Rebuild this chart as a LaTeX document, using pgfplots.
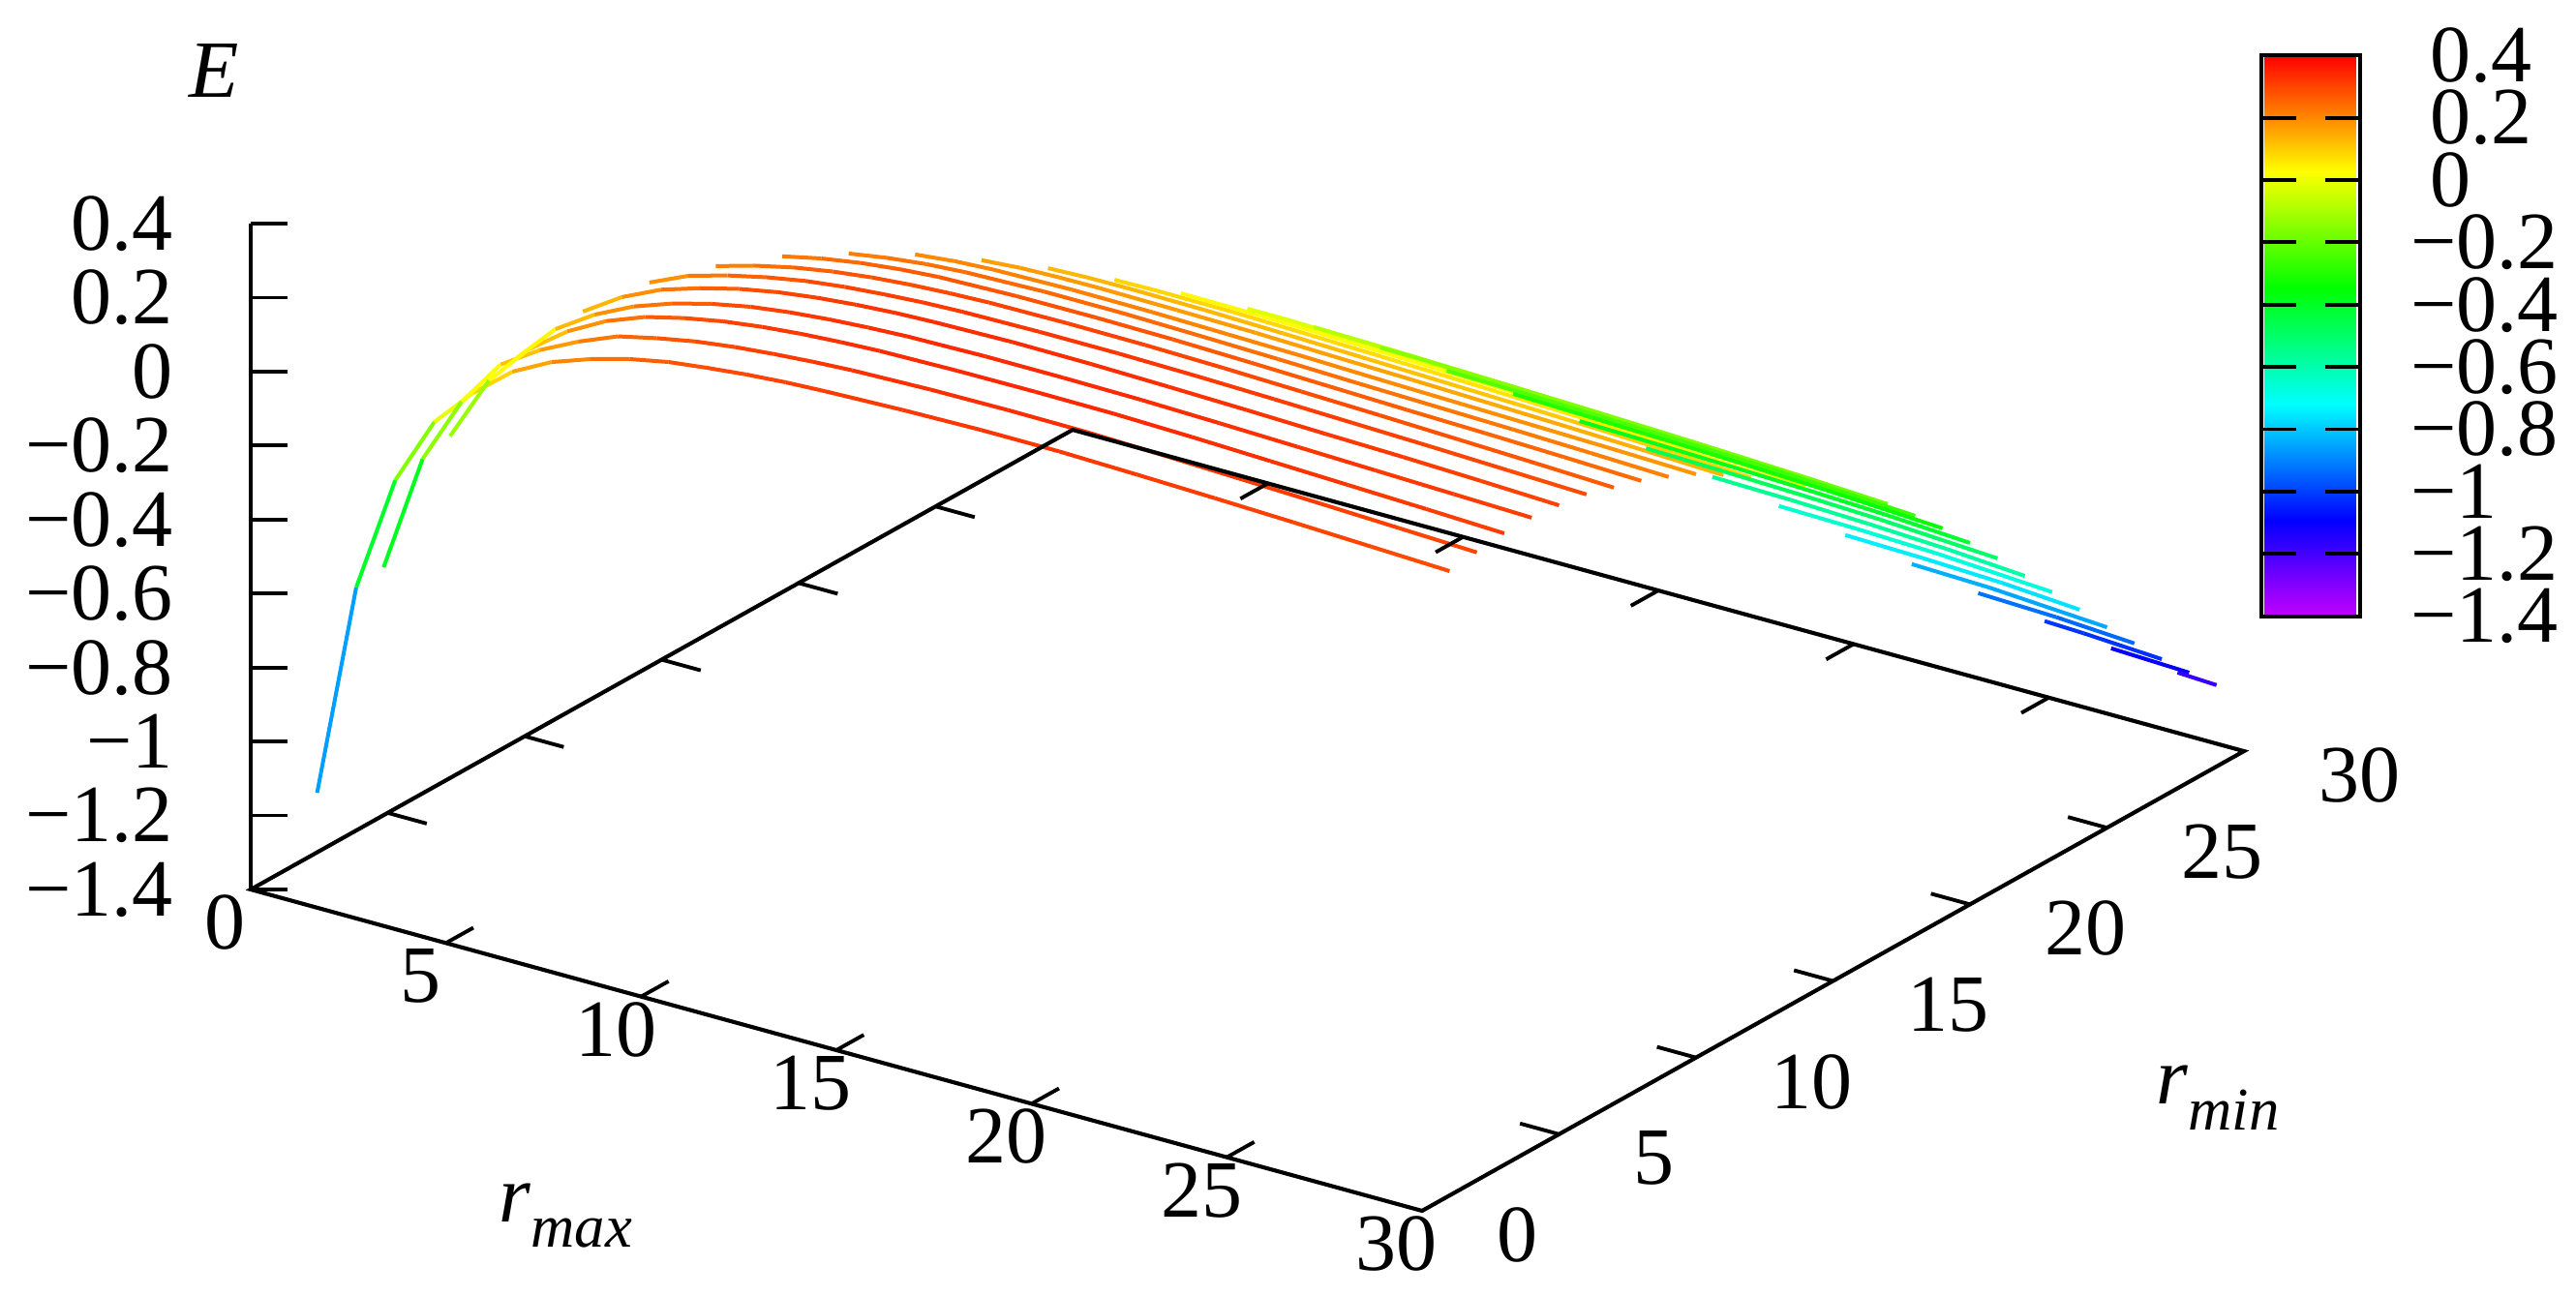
\documentclass[border=0pt]{standalone}
\usepackage{fontspec}
\setmainfont{Liberation Serif}
\usepackage{pgfplots}
\pgfplotsset{compat=1.18}
% gnuplot hsv palette, positions are (E+1.4)*100
\pgfplotsset{colormap={gpv}{rgb255(0pt)=(195,0,255); rgb255(30.8pt)=(0,0,255); rgb255(68.1pt)=(0,255,255); rgb255(105.4pt)=(0,255,0); rgb255(142.7pt)=(255,255,0); rgb255(180pt)=(255,0,0)}}
\newcommand{\lblfont}{\fontsize{12.6}{14}\selectfont}
\newcommand{\subfont}{\fontsize{9.4}{10}\selectfont}
\pgfplotsset{cv/.style={mesh,point meta=z,line width=0.6pt,line join=round}}
\begin{document}
\begin{tikzpicture}
\path[use as bounding box] (-38.85pt,-13.2pt) rectangle (360.3pt,187.65pt);
\begin{axis}[
    at={(0,0)},anchor=south west,
    x={(6.05pt,-1.66pt)},y={(4.245pt,2.3745pt)},z={(0pt,57.33pt)},
    xmin=0,xmax=30,ymin=0,ymax=30,zmin=-1.4,zmax=0.4,
    clip=false,
    colormap name=gpv,
    point meta min=-1.4,point meta max=0.4,
    axis line style={draw=none},
    major tick length=0pt,
    xtick={0,5,10,15,20,25,30},xticklabels={0,5,10,15,20,25,30},
    ytick={0,5,10,15,20,25,30},yticklabels={0,5,10,15,20,25,30},
    ztick={-1.4,-1.2,-1,-0.8,-0.6,-0.4,-0.2,0,0.2,0.4},
    zticklabels={−1.4,−1.2,−1,−0.8,−0.6,−0.4,−0.2,0,0.2,0.4},
    tick label style={font=\lblfont,inner sep=0pt},
    xticklabel style={anchor=center,xshift=-3.9pt,yshift=-5.1pt},
    yticklabel style={anchor=west,xshift=11.4pt,yshift=-3.75pt},
    zticklabel style={anchor=east,xshift=-11.85pt},
    xlabel={\lblfont\textit{r}\raisebox{-0.32em}{\subfont\textit{max}}},
    ylabel={\lblfont\textit{r}\raisebox{-0.32em}{\subfont\textit{min}}},
    zlabel={\lblfont\textit{E}},
    every axis x label/.style={at={(axis cs:15.43,-10.5,-1.4)},anchor=center},
    every axis y label/.style={at={(axis cs:40.19,14.52,-1.4)},anchor=center},
    every axis z label/.style={at={(axis cs:0,0,0.813)},anchor=center,xshift=-5.7pt},
    colorbar,
    colorbar style={
        at={(parent axis.south west)},anchor=south west,
        xshift=303.05pt,yshift=92.16pt,
        scale only axis,width=15.3pt,height=86.9pt,
        xmin=-0.03,xmax=1.03,
        ytick={-1.4,-1.2,-1,-0.8,-0.6,-0.4,-0.2,0,0.2,0.4},
        yticklabels={−1.4,−1.2,−1,−0.8,−0.6,−0.4,−0.2,\hspace*{3pt}0,\hspace*{3pt}0.2,\hspace*{3pt}0.4},
        yticklabel pos=right,
        tick align=inside,
        ytick pos=both,
        major tick length=5.4pt,
        tick style={black,line width=0.58pt},
        axis line style={black,line width=0.62pt},
        yticklabel style={font=\lblfont,anchor=west,inner sep=0pt,xshift=7.65pt},
    },
]
\addplot3[cv] coordinates {(1,1,-1.151)(2,1,-.567)(3,1,-.248)(4,1,-.062)(5,1,.046)(6,1,.132)(7,1,.187)(8,1,.224)(9,1,.253)(10,1,.274)(11,1,.287)(12,1,.298)(13,1,.306)(14,1,.311)(16,1,.318)(18,1,.322)(20,1,.322)(22,1,.317)(24,1,.311)(26,1,.304)(28,1,.296)(30,1,.288)};
\addplot3[cv] coordinates {(2,2,-.554)(3,2,-.232)(4,2,-.048)(5,2,.081)(6,2,.149)(7,2,.201)(8,2,.244)(9,2,.268)(10,2,.288)(11,2,.302)(12,2,.312)(13,2,.320)(14,2,.326)(16,2,.332)(18,2,.334)(20,2,.333)(22,2,.327)(24,2,.320)(26,2,.313)(28,2,.305)(30,2,.297)};
\addplot3[cv] coordinates {(3,3,-.212)(4,3,-.032)(5,3,.08)(6,3,.158)(7,3,.215)(8,3,.255)(9,3,.281)(10,3,.301)(11,3,.315)(12,3,.325)(13,3,.332)(14,3,.337)(16,3,.341)(18,3,.342)(20,3,.341)(22,3,.336)(24,3,.329)(26,3,.322)(28,3,.315)(30,3,.307)};
\addplot3[cv] coordinates {(4,4,-.013)(5,4,.094)(6,4,.162)(7,4,.213)(8,4,.25)(9,4,.278)(10,4,.299)(11,4,.313)(12,4,.323)(13,4,.33)(14,4,.335)(16,4,.339)(18,4,.339)(20,4,.337)(22,4,.332)(24,4,.326)(26,4,.32)(28,4,.314)(30,4,.308)};
\addplot3[cv] coordinates {(5,5,.10)(6,5,.168)(7,5,.217)(8,5,.25)(9,5,.277)(10,5,.297)(11,5,.311)(12,5,.321)(13,5,.328)(14,5,.332)(16,5,.336)(18,5,.335)(20,5,.331)(22,5,.326)(24,5,.32)(26,5,.315)(28,5,.308)(30,5,.30)};
\addplot3[cv] coordinates {(6,6,.166)(7,6,.213)(8,6,.243)(9,6,.267)(10,6,.286)(11,6,.299)(12,6,.308)(13,6,.315)(14,6,.319)(16,6,.322)(18,6,.322)(20,6,.319)(22,6,.314)(24,6,.308)(26,6,.302)(28,6,.295)(30,6,.288)};
\addplot3[cv] coordinates {(7,7,.198)(8,7,.228)(9,7,.252)(10,7,.27)(11,7,.283)(12,7,.292)(13,7,.298)(14,7,.302)(16,7,.304)(18,7,.303)(20,7,.299)(22,7,.293)(24,7,.287)(26,7,.28)(28,7,.273)(30,7,.265)};
\addplot3[cv] coordinates {(8,8,.212)(9,8,.235)(10,8,.252)(11,8,.264)(12,8,.272)(14,8,.278)(16,8,.279)(18,8,.277)(20,8,.272)(22,8,.266)(24,8,.26)(26,8,.255)(28,8,.249)(30,8,.242)};
\addplot3[cv] coordinates {(9,9,.207)(10,9,.224)(11,9,.236)(12,9,.243)(14,9,.249)(16,9,.249)(18,9,.245)(20,9,.24)(22,9,.234)(24,9,.229)(26,9,.224)(28,9,.218)(30,9,.211)};
\addplot3[cv] coordinates {(10,10,.192)(11,10,.203)(12,10,.209)(14,10,.213)(16,10,.212)(18,10,.208)(20,10,.204)(22,10,.198)(24,10,.193)(26,10,.188)(28,10,.183)(30,10,.177)};
\addplot3[cv] coordinates {(11,11,.164)(12,11,.172)(13,11,.175)(14,11,.176)(16,11,.174)(18,11,.171)(20,11,.165)(22,11,.16)(24,11,.154)(26,11,.148)(28,11,.141)(30,11,.133)};
\addplot3[cv] coordinates {(12,12,.13)(13,12,.134)(14,12,.135)(16,12,.133)(18,12,.128)(20,12,.122)(22,12,.116)(24,12,.11)(26,12,.103)(28,12,.095)(30,12,.085)};
\addplot3[cv] coordinates {(13,13,.086)(14,13,.088)(16,13,.087)(18,13,.082)(20,13,.076)(22,13,.07)(24,13,.063)(26,13,.056)(28,13,.047)(30,13,.035)};
\addplot3[cv] coordinates {(14,14,.037)(16,14,.036)(18,14,.031)(20,14,.025)(22,14,.018)(24,14,.011)(26,14,.004)(28,14,-.006)(30,14,-.02)};
\addplot3[cv] coordinates {(15,15,-.017)(16,15,-.017)(18,15,-.022)(20,15,-.029)(22,15,-.036)(24,15,-.044)(26,15,-.052)(28,15,-.062)(30,15,-.075)};
\addplot3[cv] coordinates {(16,16,-.079)(18,16,-.083)(20,16,-.089)(22,16,-.096)(24,16,-.104)(26,16,-.112)(28,16,-.121)(30,16,-.133)};
\addplot3[cv] coordinates {(17,17,-.147)(18,17,-.148)(20,17,-.153)(22,17,-.159)(24,17,-.166)(26,17,-.174)(28,17,-.183)(30,17,-.194)};
\addplot3[cv] coordinates {(18,18,-.222)(20,18,-.226)(22,18,-.232)(24,18,-.238)(26,18,-.245)(28,18,-.255)(30,18,-.267)};
\addplot3[cv] coordinates {(19,19,-.297)(21,19,-.303)(23,19,-.309)(25,19,-.316)(27,19,-.325)(30,19,-.342)};
\addplot3[cv] coordinates {(20,20,-.383)(22,20,-.388)(24,20,-.394)(26,20,-.401)(28,20,-.41)(30,20,-.423)};
\addplot3[cv] coordinates {(21,21,-.469)(23,21,-.474)(25,21,-.48)(27,21,-.488)(30,21,-.506)};
\addplot3[cv] coordinates {(22,22,-.559)(24,22,-.563)(26,22,-.57)(28,22,-.58)(30,22,-.595)};
\addplot3[cv] coordinates {(23,23,-.65)(25,23,-.654)(27,23,-.661)(30,23,-.68)};
\addplot3[cv] coordinates {(24,24,-.741)(26,24,-.746)(28,24,-.754)(30,24,-.769)};
\addplot3[cv] coordinates {(25,25,-.832)(27,25,-.838)(30,25,-.858)};
\addplot3[cv] coordinates {(26,26,-.923)(28,26,-.93)(30,26,-.943)};
\addplot3[cv] coordinates {(27,27,-1.011)(28,27,-1.015)(30,27,-1.027)};
\addplot3[cv] coordinates {(28,28,-1.097)(30,28,-1.105)};
\addplot3[cv] coordinates {(29,29,-1.175)(30,29,-1.18)};
% gnuplot base box and inward ticks
\draw[black,line width=0.62pt,line join=miter]
    (axis cs:0,0,-1.4) -- (axis cs:30,0,-1.4) -- (axis cs:30,30,-1.4) -- (axis cs:0,30,-1.4) -- cycle;
\draw[black,line width=0.62pt] (axis cs:0,0,-1.4) -- (axis cs:0,0,0.4);
\pgfplotsinvokeforeach{5,10,15,20,25}{
    \draw[black,line width=0.58pt] (axis cs:#1,0,-1.4) -- (axis cs:#1,1,-1.4);
    \draw[black,line width=0.58pt] (axis cs:#1,30,-1.4) -- (axis cs:#1,29,-1.4);
    \draw[black,line width=0.58pt] (axis cs:0,#1,-1.4) -- (axis cs:1,#1,-1.4);
    \draw[black,line width=0.58pt] (axis cs:30,#1,-1.4) -- (axis cs:29,#1,-1.4);
}
\pgfplotsinvokeforeach{-1.4,-1.2,-1,-0.8,-0.6,-0.4,-0.2,0,0.2,0.4}{
    \draw[black,line width=0.58pt] (axis cs:0,0,#1) -- ++(5.7pt,0pt);
}
\end{axis}
\end{tikzpicture}
\end{document}
